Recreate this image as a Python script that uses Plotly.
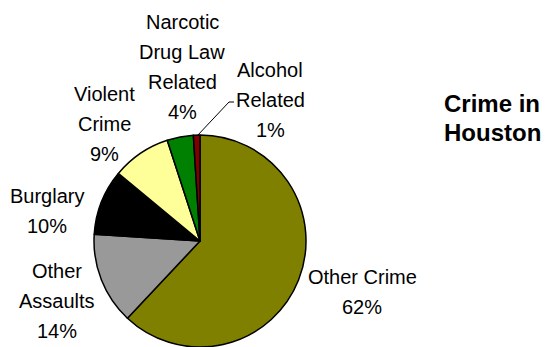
import plotly.graph_objects as go

# ---- data ----
categories = ["Other Crime", "Other Assaults", "Burglary", "Violent Crime",
              "Narcotic Drug Law Related", "Alcohol Related"]
values = [62, 14, 10, 9, 4, 1]
label_lines = [["Other Crime"], ["Other", "Assaults"], ["Burglary"],
               ["Violent", "Crime"], ["Narcotic", "Drug Law", "Related"],
               ["Alcohol", "Related"]]
title_lines = ["Crime in", "Houston"]

# ---- style / layout ----
colors = ["#808000", "#999999", "#000000", "#FFFF99", "#008000", "#800000"]
W, H = 550, 347
FONT = "Liberation Sans, Arial, sans-serif"
# label anchor (center x, first-line center y) in pixels
label_pos = [(362, 277), (57, 271), (47, 196), (104, 94), (182, 22), (270, 70)]
line_gap = 30
title_pos = (442, 103)
title_gap = 29


def px(x):
    return x / W


def py(y):
    return 1 - y / H


total = sum(values)
fig = go.Figure(go.Pie(
    labels=categories,
    values=values,
    sort=False,
    direction="clockwise",
    rotation=0,
    marker=dict(colors=colors, line=dict(color="#000000", width=1.5)),
    textinfo="none",
    hoverinfo="label+percent",
    showlegend=False,
    domain=dict(x=[px(94), px(306)], y=[0, py(135)]),
))

annotations = []
for lines, v, (cx, cy) in zip(label_lines, values, label_pos):
    all_lines = lines + [f"{round(v / total * 100)}%"]
    for i, t in enumerate(all_lines):
        annotations.append(dict(
            x=px(cx), y=py(cy + i * line_gap), xref="paper", yref="paper",
            text=t, showarrow=False, xanchor="center", yanchor="middle",
            font=dict(family=FONT, size=20, color="#000000"),
        ))

for i, t in enumerate(title_lines):
    annotations.append(dict(
        x=px(title_pos[0]), y=py(title_pos[1] + i * title_gap),
        xref="paper", yref="paper", text=f"<b>{t}</b>", showarrow=False,
        xanchor="left", yanchor="middle",
        font=dict(family=FONT, size=24, color="#000000"),
    ))

# leader line for the small slice
shapes = [dict(type="path", xref="paper", yref="paper",
               path=f"M {px(197)},{py(136)} L {px(229)},{py(102)} L {px(234)},{py(102)}",
               line=dict(color="#000000", width=1))]

fig.update_layout(
    width=W, height=H,
    margin=dict(l=0, r=0, t=0, b=0),
    paper_bgcolor="white", plot_bgcolor="white",
    annotations=annotations, shapes=shapes,
)

fig.write_html(
    "out.html",
    config={"displayModeBar": False},
    post_script="document.body.style.margin='0';document.body.style.overflow='hidden';",
)
